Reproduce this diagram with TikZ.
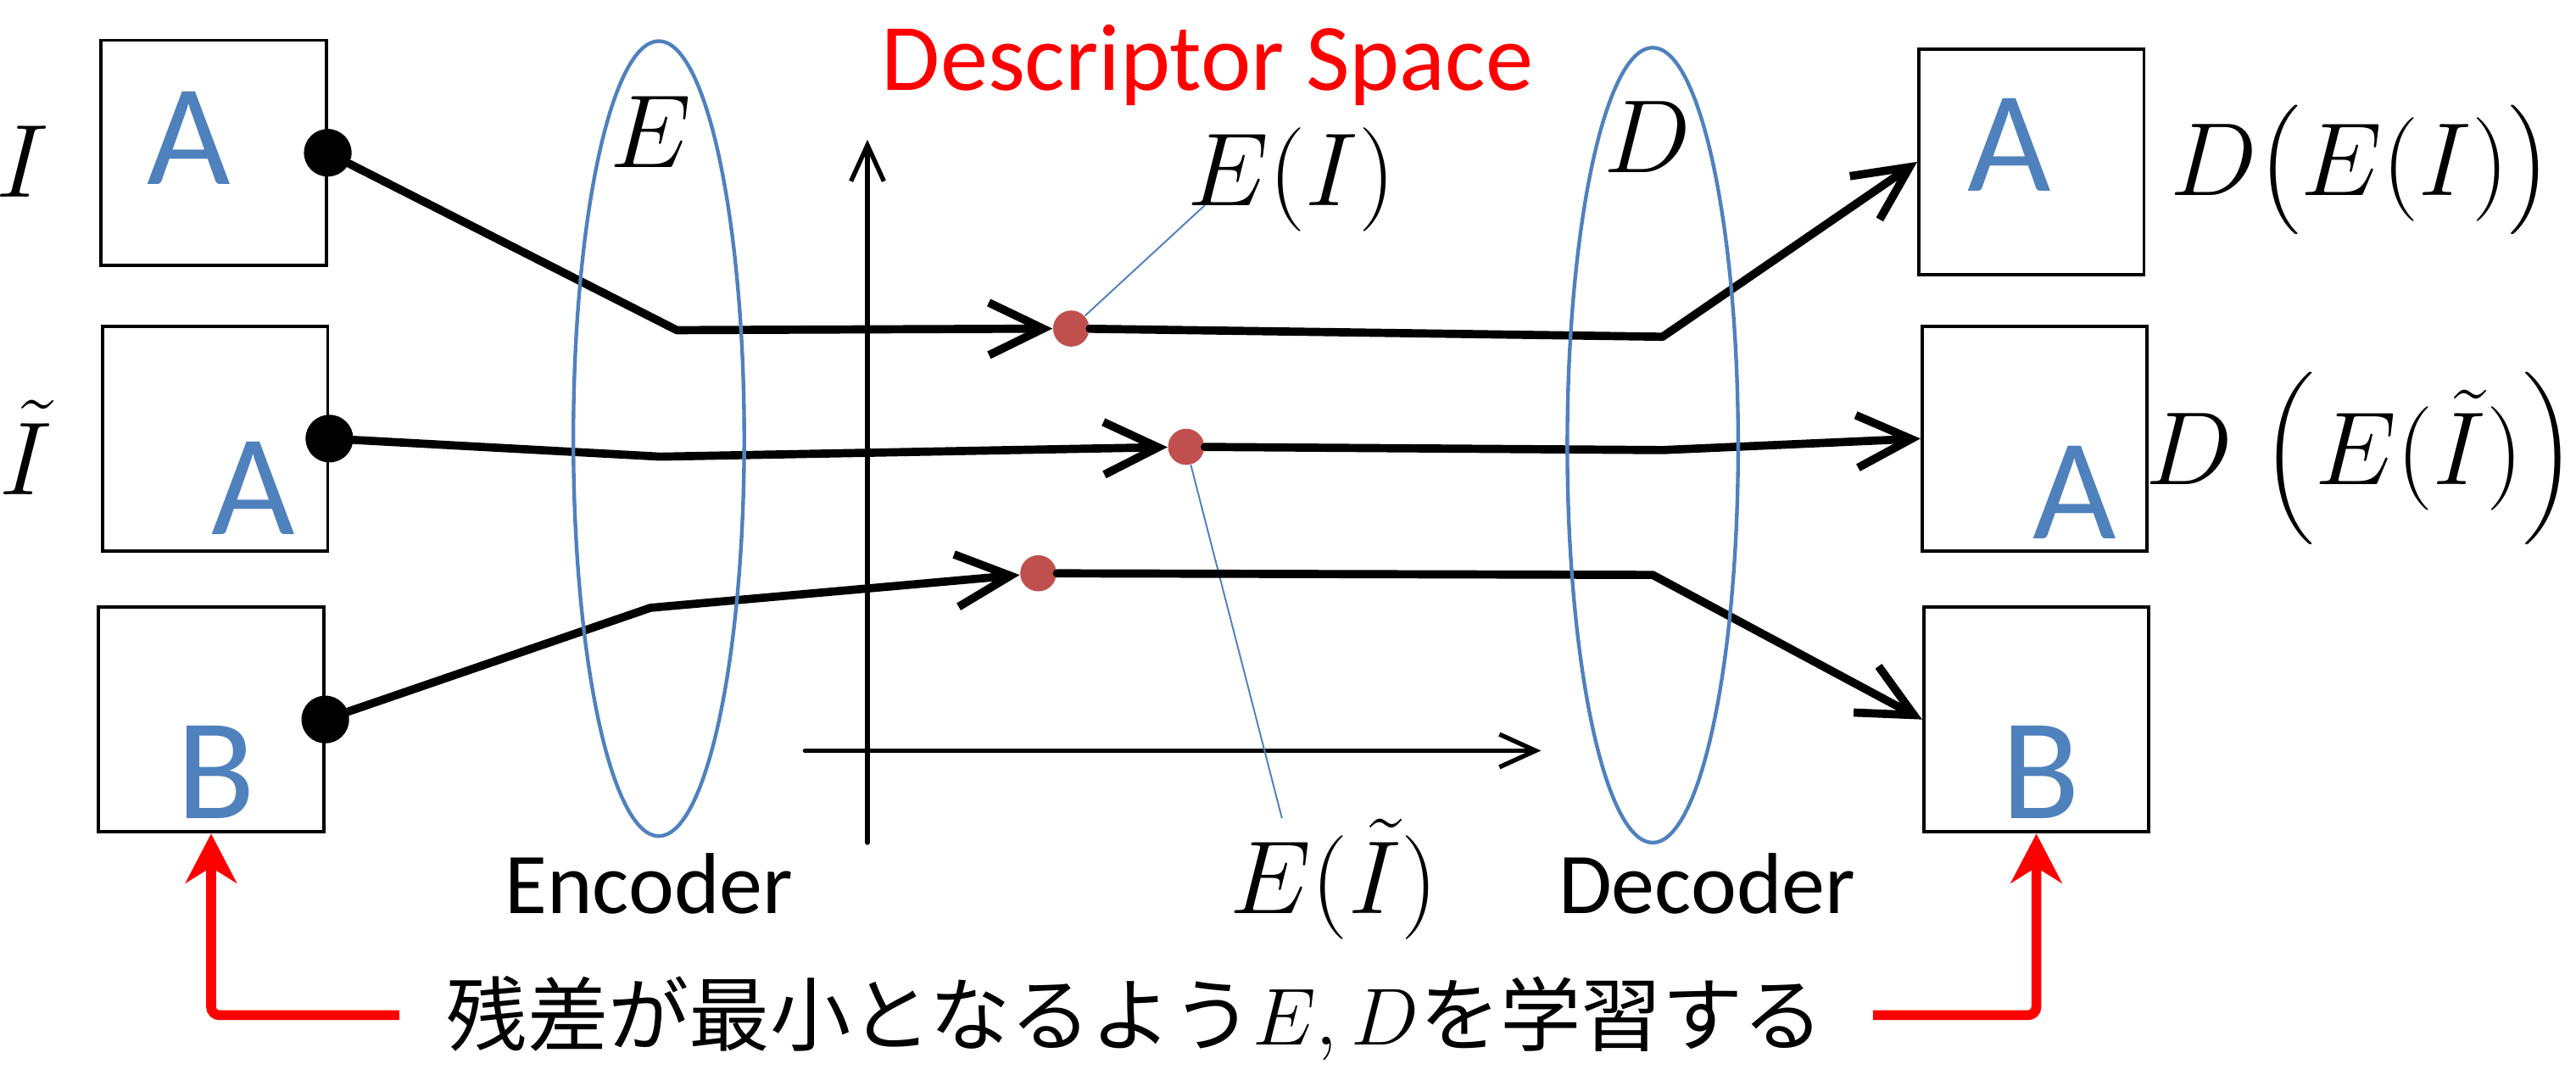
\RequirePackage{fix-cm}
\documentclass[tikz,border=0pt]{standalone}
\usepackage{amsmath}
\usepackage{fontspec}
\usetikzlibrary{arrows.meta, positioning, shapes.geometric}
\newfontfamily\carlito{Carlito}
\newfontfamily\jpfont{Noto Sans CJK JP}
\definecolor{ringblue}{HTML}{4F81BD}
\definecolor{codered}{HTML}{C0504D}
\definecolor{lossred}{HTML}{FF0000}

\begin{document}
\begin{tikzpicture}[
    x=0.2mm, y=-0.2mm,
    imgbox/.style={draw, line width=0.4mm, minimum width=27.4mm, minimum height=27.4mm, inner sep=0pt},
    glyph/.style={text=ringblue, font=\carlito\fontsize{50}{60}\selectfont, inner sep=0pt},
    indot/.style={circle, fill=black, minimum size=5.8mm, inner sep=0pt},
    codedot/.style={circle, fill=codered, minimum size=4.4mm, inner sep=0pt},
    ring/.style={ellipse, draw=ringblue, line width=0.45mm, minimum width=20.8mm, minimum height=96.8mm, inner sep=0pt},
    mathlbl/.style={font=\fontsize{36}{43}\selectfont, inner sep=0pt, anchor=base},
    wordlbl/.style={font=\carlito\fontsize{30}{36}\selectfont, inner sep=0pt, anchor=base},
    conn/.style={line width=1mm, line cap=round, line join=round},
    arrow/.style={conn, -{Straight Barb[length=6.6mm, width=6.4mm]}},
    axis/.style={line width=0.55mm, line cap=round, -{Straight Barb[length=4.4mm, width=4mm]}},
    leader/.style={draw=ringblue, line width=0.2mm},
    loss/.style={draw=lossred, line width=1.2mm, rounded corners=1mm, -{Stealth[length=6mm, width=6.2mm, inset=1.9mm]}},
]
    \useasboundingbox (0,0) rectangle (1568,654);

    % Input images
    \node[imgbox] (src1) at (130,93) {};
    \node[imgbox] (src2) at (131,267) {};
    \node[imgbox] (src3) at (128.5,438) {};
    \node[glyph] (srcA1) at (115,84) {A};
    \node[glyph] (srcA2) at (154,297) {A};
    \node[glyph] (srcB3) at (131.5,470) {B};
    \node[indot] (in1) at (src1.east) {};
    \node[indot] (in2) at (src2.east) {};
    \node[indot] (in3) at (src3.east) {};
    \node[mathlbl] (lblI) at (14,120) {$I$};
    \node[mathlbl] (lblIt) at (16,301) {$\tilde{I}$};

    % Descriptor space
    \node[wordlbl, font=\carlito\fontsize{33}{40}\selectfont, text=lossred] (title) at (735,55) {Descriptor Space};
    \coordinate (yfoot) at (528,513);
    \coordinate (ytip) at (528,85);
    \coordinate (xfoot) at (490,457);
    \coordinate (xtip) at (938,457);
    \draw[axis] (yfoot) -- (ytip);
    \draw[axis] (xfoot) -- (xtip);
    \node[codedot] (c1) at (652,200) {};
    \node[codedot] (c2) at (722,272) {};
    \node[codedot] (c3) at (632,349) {};
    \node[mathlbl] (lblEI) at (786,125) {$E(I)$};
    \node[mathlbl] (lblEIt) at (812,556) {$E(\tilde{I})$};
    \draw[leader] (c1) -- ([xshift=2.2mm]lblEI.base west);
    \draw[leader] (c2) -- ([xshift=6.4mm]lblEIt.north west);

    % Output images
    \node[imgbox] (tgt1) at (1236.5,98.5) {};
    \node[imgbox] (tgt2) at (1238.5,267) {};
    \node[imgbox] (tgt3) at (1239.5,438) {};
    \node[glyph] (tgtA1) at (1223,88) {A};
    \node[glyph] (tgtA2) at (1263,300) {A};
    \node[glyph] (tgtB3) at (1242,470) {B};
    \node[mathlbl] (lblDEI) at (1437,119) {$D\bigl(E(I)\bigr)$};
    \node[mathlbl] (lblDEIt) at (1437,295) {$D\;\Bigl(E(\tilde{I})\Bigr)$};

    % Bends
    \coordinate (e1) at (412,201);
    \coordinate (e2) at (402,278);
    \coordinate (e3) at (396,370);
    \coordinate (d1) at (1012,205);
    \coordinate (d2) at (1012,274);
    \coordinate (d3) at (1006,350);

    % Arrows
    \draw[arrow] (in1) -- (e1) -- (c1);
    \draw[arrow] (in2) -- (e2) -- (c2);
    \draw[arrow] (in3) -- (e3) -- (c3);
    \draw[arrow] (c1) -- (d1) -- (tgt1.west);
    \draw[arrow] (c2) -- (d2) -- (tgt2.west);
    \draw[arrow] (c3) -- (d3) -- (tgt3.west);

    % Encoder / decoder
    \node[ring] (enc) at (401,267) {};
    \node[ring] (dec) at (1006,271) {};
    \node[mathlbl] (lblE) at (396,102) {$E$};
    \node[mathlbl] (lblD) at (1003,105) {$D$};
    \node[wordlbl] (encname) at (395,556) {Encoder};
    \node[wordlbl] (decname) at (1039,556) {Decoder};

    % Training objective
    \node[font=\jpfont\fontsize{28}{34}\selectfont, inner sep=0pt] (note) at (691,620) {残差が最小となるよう$E, D$を学習する};
    \coordinate (lossL) at (243,618);
    \coordinate (lossR) at (1140,618);
    \draw[loss] (lossL) -- (lossL -| src3.south) -- (src3.south);
    \draw[loss] (lossR) -- (lossR -| tgt3.south) -- (tgt3.south);
\end{tikzpicture}
\end{document}
